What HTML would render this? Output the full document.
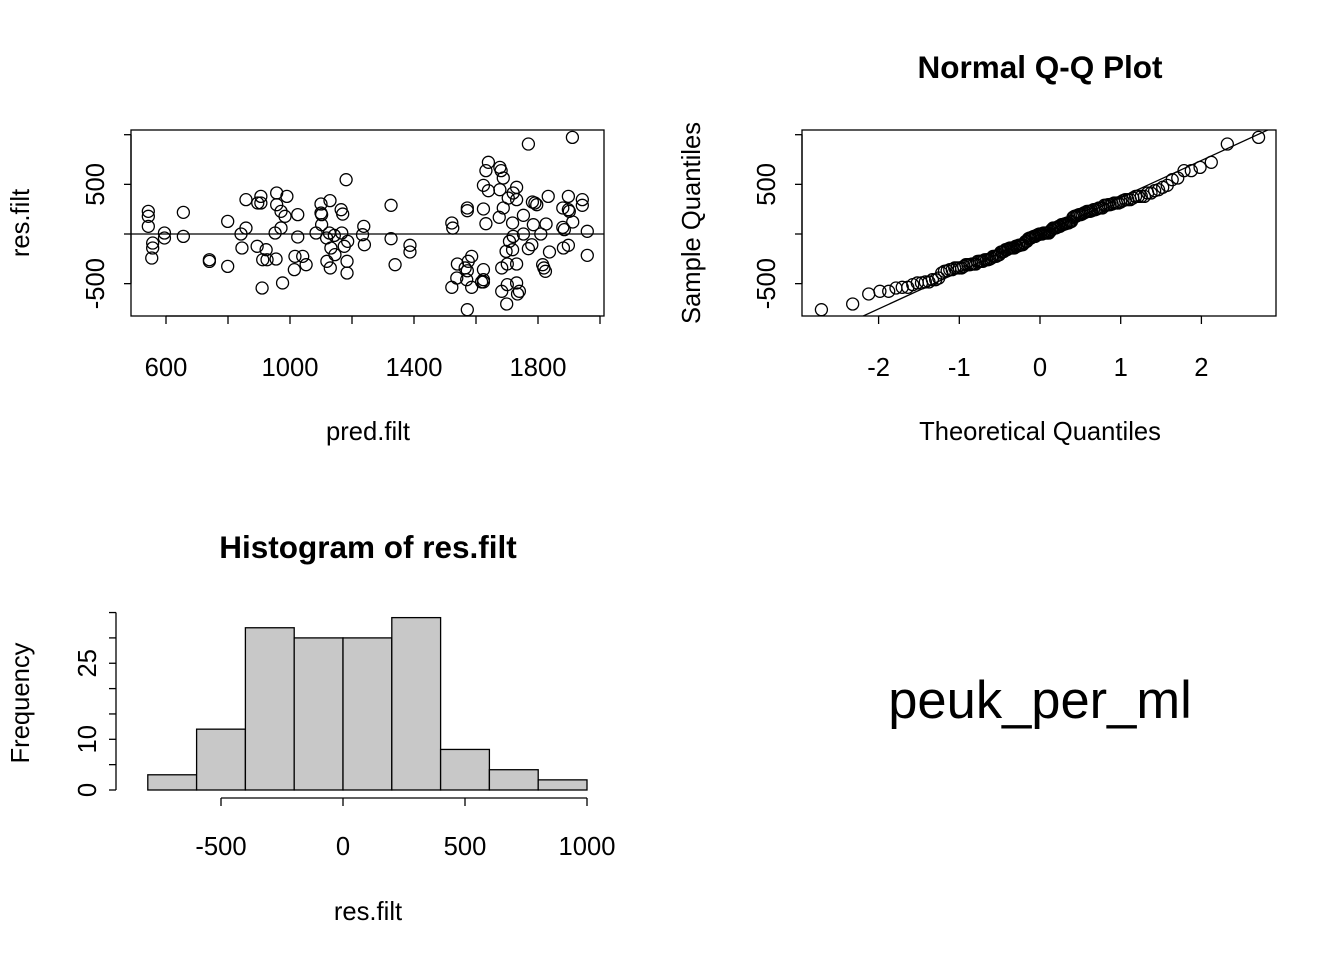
<!DOCTYPE html>
<html><head><meta charset="utf-8">
<style>
html,body{margin:0;padding:0;background:#fff;}
svg{display:block;font-family:"Liberation Sans",Arial,sans-serif;}
</style></head>
<body>
<svg id="chart" width="1344" height="960" viewBox="0 0 1344 960" xmlns="http://www.w3.org/2000/svg">
<rect x="0" y="0" width="1344" height="960" fill="#fff"/>
<text x="1040" y="718" font-size="52.5" text-anchor="middle">peuk_per_ml</text>
</svg>
<script>
// ---- Data ----
const predVals = [543,543,543,557,557,554,595,595,656,656,740,740,799,799,842,858,845,858,896,906,906,894,923,912,926,955,910,957,990,957,971,984,971,952,1025,1025,1016,1041,1014,1052,976,1084,1100,1129,1100,1102,1102,1118,1127,1143,1165,1170,1167,1186,1175,1132,1145,1119,1130,1184,1184,1181,1238,1234,1240,
1326,1326,1339,1387,1387,1522,1525,1522,1572,1572,1572,1624,1632,1640,1632,1677,1681,1688,1624,1640,1677,1688,1675,1720,1731,1704,1731,1718,1753,1782,1790,1796,1785,1753,1720,1708,1718,1697,1780,1769,1809,1826,1833,1837,1731,1701,1683,1815,1819,1824,1701,1731,1740,1734,1699,1683,1769,1911,1898,1943,1943,1880,1898,1901,1912,1880,1885,1959,1898,1882,1959,1540,1565,1586,1575,1572,1624,1624,1624,1538,1570,1586,1618];
const resVals = [228,178,77,-91,-141,-242,10,-40,218,-24,-259,-276,127,-326,0,60,-141,346,312,379,312,-124,-158,-259,-259,-252,-544,413,379,295,228,178,61,10,195,-30,-225,-225,-359,-309,-493,10,302,336,211,195,94,-40,10,-14,245,201,10,-74,-124,-141,-208,-275,-342,-275,-393,547,77,-7,-108,
289,-47,-309,-114,-181,111,60,-537,262,235,-762,252,104,722,638,671,638,564,490,436,446,262,168,413,470,362,346,111,188,322,312,295,94,0,-24,-74,-158,-175,-108,-148,0,101,379,-181,-302,-302,-342,-309,-342,-376,-510,-493,-577,-604,-705,-577,906,973,379,346,289,262,245,228,121,67,44,27,-114,-141,-215,-302,-342,-225,-275,-370,-359,-460,-483,-443,-460,-537,-483];
const histBreaks = [-800,-600,-400,-200,0,200,400,600,800,1000];
const histCounts = [3,12,32,30,30,34,8,4,2];
const scatterXTicks = [600,800,1000,1200,1400,1600,1800,2000];
const scatterXLabels = ["600","","1000","","1400","","1800",""];
const resTicks = [-500,0,500,1000];
const resTickLabels = ["-500","","500",""];
const qqXTicks = [-2,-1,0,1,2];
const histYTicks = [0,5,10,15,20,25,30,35];
const histYLabels = ["0","","10","","","25","",""];
const histXTicks = [-500,0,500,1000];

const NS = "http://www.w3.org/2000/svg";
const svg = document.getElementById('chart');
function mk(tag, attrs, parent){
  const e = document.createElementNS(NS, tag);
  for (const k in attrs) e.setAttribute(k, attrs[k]);
  (parent||svg).appendChild(e);
  return e;
}
function line(x1,y1,x2,y2,p){ return mk('line',{x1,y1,x2,y2,stroke:'#000','stroke-width':1.3},p); }
function txt(x,y,s,size,opts,p){
  const e = mk('text',Object.assign({x,y,'font-size':size,'text-anchor':'middle',fill:'#000'},opts||{}),p);
  e.textContent = s; return e;
}

const sx = v => 166 + (v-600)*0.31;
const sy = v => 234 - v*0.0993;
const qx = v => 1040 + v*80.7;
const hx = v => 343 + v*0.244;
const hy = v => 790 - v*5.07;

function qnorm(p){
  const a=[-39.69683028665376,220.9460984245205,-275.9285104469687,138.3577518672690,-30.66479806614716,2.506628277459239];
  const b=[-54.47609879822406,161.5858368580409,-155.6989798598866,66.80131188771972,-13.28068155288572];
  const c=[-0.007784894002430293,-0.3223964580411365,-2.400758277161838,-2.549732539343734,4.374664141464968,2.938163982698783];
  const d=[0.007784695709041462,0.3224671290700398,2.445134137142996,3.754408661907416];
  const pl=0.02425;
  let q,r;
  if(p<pl){q=Math.sqrt(-2*Math.log(p));return (((((c[0]*q+c[1])*q+c[2])*q+c[3])*q+c[4])*q+c[5])/((((d[0]*q+d[1])*q+d[2])*q+d[3])*q+1);}
  if(p>1-pl){q=Math.sqrt(-2*Math.log(1-p));return -(((((c[0]*q+c[1])*q+c[2])*q+c[3])*q+c[4])*q+c[5])/((((d[0]*q+d[1])*q+d[2])*q+d[3])*q+1);}
  q=p-0.5;r=q*q;
  return (((((a[0]*r+a[1])*r+a[2])*r+a[3])*r+a[4])*r+a[5])*q/(((((b[0]*r+b[1])*r+b[2])*r+b[3])*r+b[4])*r+1);
}

// ---------- Scatter panel ----------
const g1 = mk('g',{});


const clip = mk('clipPath',{id:'c1'},g1); mk('rect',{x:131,y:130,width:473,height:186},clip);
const pts1 = mk('g',{'clip-path':'url(#c1)'},g1);


line(131,sy(0),604,sy(0),pts1);
for (let i=0;i<predVals.length;i++){
  const c = mk('circle',{cx:sx(predVals[i]),cy:sy(resVals[i]),r:6,fill:'none',stroke:'#000','stroke-width':1.3},pts1);
  
  
}
const b1 = mk('rect',{x:131,y:130,width:473,height:186,fill:'none',stroke:'#000','stroke-width':1.3},g1);


const xa1 = mk('g',{},g1);


line(sx(scatterXTicks[0]),316,sx(scatterXTicks[scatterXTicks.length-1]),316,xa1);
scatterXTicks.forEach((t,i)=>{ line(sx(t),316,sx(t),324,xa1); if(scatterXLabels[i]) txt(sx(t),376,scatterXLabels[i],25.6,{},xa1); });
const ya1 = mk('g',{},g1);


line(131,sy(resTicks[0]),131,sy(resTicks[resTicks.length-1]),ya1);
resTicks.forEach((t,i)=>{ line(124,sy(t),131,sy(t),ya1); if(resTickLabels[i]) txt(104,sy(t),resTickLabels[i],25.6,{transform:`rotate(-90 104 ${sy(t)})`},ya1); });
const xl1 = txt(368,440,'pred.filt',25.6,{},g1);


const yl1 = txt(29,223,'res.filt',25.6,{transform:'rotate(-90 29 223)'},g1);



// ---------- QQ panel ----------
const g2 = mk('g',{});


const clip2 = mk('clipPath',{id:'c2'},g2); mk('rect',{x:802,y:130,width:474,height:186},clip2);
const pts2 = mk('g',{'clip-path':'url(#c2)'},g2);


const sorted = resVals.slice().sort((a,b)=>a-b);
const n = sorted.length;
const tq = sorted.map((v,i)=>qnorm((i+0.5)/n));
function quant(arr,p){ const h=(arr.length-1)*p, lo=Math.floor(h); return arr[lo]+(h-lo)*(arr[Math.min(lo+1,arr.length-1)]-arr[lo]); }
const q1 = quant(sorted,0.25), q3 = quant(sorted,0.75);
const slope = (q3-q1)/(qnorm(0.75)-qnorm(0.25));
const icpt = q1 - slope*qnorm(0.25);
const ql = line(qx(-4),sy(icpt+slope*-4),qx(4),sy(icpt+slope*4),pts2);


for (let i=0;i<n;i++){
  const c = mk('circle',{cx:qx(tq[i]),cy:sy(sorted[i]),r:6,fill:'none',stroke:'#000','stroke-width':1.3},pts2);
  
  
}
mk('rect',{x:802,y:130,width:474,height:186,fill:'none',stroke:'#000','stroke-width':1.3},g2);
const xa2 = mk('g',{},g2);


line(qx(qqXTicks[0]),316,qx(qqXTicks[qqXTicks.length-1]),316,xa2);
qqXTicks.forEach(t=>{ line(qx(t),316,qx(t),324,xa2); txt(qx(t),376,String(t),25.6,{},xa2); });
const ya2 = mk('g',{},g2);


line(802,sy(resTicks[0]),802,sy(resTicks[resTicks.length-1]),ya2);
resTicks.forEach((t,i)=>{ line(795,sy(t),802,sy(t),ya2); if(resTickLabels[i]) txt(775,sy(t),resTickLabels[i],25.6,{transform:`rotate(-90 775 ${sy(t)})`},ya2); });
const t2 = txt(1040,78,'Normal Q-Q Plot',31.5,{'font-weight':'bold'},g2);


const xl2 = txt(1040,440,'Theoretical Quantiles',25.6,{},g2);


const yl2 = txt(700,223,'Sample Quantiles',25.6,{transform:'rotate(-90 700 223)'},g2);



// ---------- Histogram ----------
const g3 = mk('g',{});


histCounts.forEach((c,i)=>{
  const x0=hx(histBreaks[i]), x1=hx(histBreaks[i+1]);
  const r = mk('rect',{x:x0,y:hy(c),width:x1-x0,height:hy(0)-hy(c),fill:'#c8c8c8',stroke:'#000','stroke-width':1.3},g3);
  
  
});
const xa3 = mk('g',{},g3);


line(hx(histXTicks[0]),798,hx(histXTicks[histXTicks.length-1]),798,xa3);
histXTicks.forEach(t=>{ line(hx(t),798,hx(t),806,xa3); txt(hx(t),855,String(t),25.6,{},xa3); });
const ya3 = mk('g',{},g3);


line(116,hy(histYTicks[0]),116,hy(histYTicks[histYTicks.length-1]),ya3);
histYTicks.forEach((t,i)=>{ line(109,hy(t),116,hy(t),ya3); if(histYLabels[i]) txt(96,hy(t),histYLabels[i],25.6,{transform:`rotate(-90 96 ${hy(t)})`},ya3); });
const t3 = txt(368,558,'Histogram of res.filt',31.5,{'font-weight':'bold'},g3);


const xl3 = txt(368,920,'res.filt',25.6,{},g3);


const yl3 = txt(29,703,'Frequency',25.6,{transform:'rotate(-90 29 703)'},g3);


</script>
</body></html>
